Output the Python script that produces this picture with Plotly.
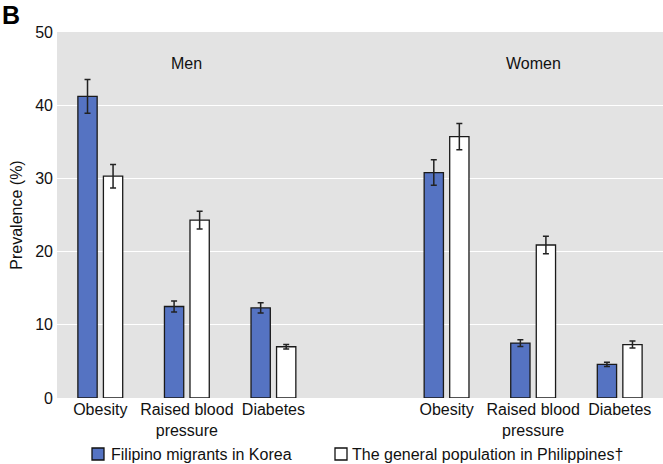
import plotly.graph_objects as go

groups = ["Men", "Women"]
conditions = ["Obesity", "Raised blood<br>pressure", "Diabetes"]
series_names = ["Filipino migrants in Korea", "The general population in Philippines†"]

# values per group (Men, Women) in condition order
migrants_men = [41.2, 12.5, 12.3]
migrants_women = [30.8, 7.5, 4.6]
migrants_err_men = [2.3, 0.75, 0.7]
migrants_err_women = [1.75, 0.45, 0.28]

general_men = [30.3, 24.3, 7.0]
general_women = [35.7, 20.9, 7.3]
general_err_men = [1.6, 1.2, 0.3]
general_err_women = [1.8, 1.2, 0.48]

y_ticks = [0, 10, 20, 30, 40, 50]

# category keys: Men conditions, a spacer slot, Women conditions
keys_men = [f"Men|{c}" for c in conditions]
keys_women = [f"Women|{c}" for c in conditions]
spacer = "gap"
cat_order = keys_men + [spacer] + keys_women
tick_text = conditions + [""] + conditions

FONT = "Arial, Liberation Sans, sans-serif"
BLUE = "#5573C2"
FILLS = [BLUE, "white"]

W, H = 663, 464
ML, MR, MT, MB = 57, 0, 32, 66
PW, PH = W - ML - MR, H - MT - MB


def px_x(p):
    return (p - ML) / PW


def px_y(p):
    return (H - MB - p) / PH


fig = go.Figure()
fig.add_trace(go.Bar(
    name=series_names[0],
    x=keys_men + keys_women,
    y=migrants_men + migrants_women,
    error_y=dict(type="data", array=migrants_err_men + migrants_err_women,
                 color="#222222", thickness=1.5, width=3),
    marker=dict(color=FILLS[0], line=dict(color="#1a1a1a", width=1.3)),
))
fig.add_trace(go.Bar(
    name=series_names[1],
    x=keys_men + keys_women,
    y=general_men + general_women,
    error_y=dict(type="data", array=general_err_men + general_err_women,
                 color="#222222", thickness=1.5, width=3),
    marker=dict(color=FILLS[1], line=dict(color="#1a1a1a", width=1.3)),
))

# group labels centered over middle condition of each group
fig.add_annotation(x=keys_men[1], y=45.7, text=groups[0], showarrow=False,
                   xref="x", yref="y", font=dict(size=16, color="#111111", family=FONT))
fig.add_annotation(x=keys_women[1], y=45.7, text=groups[1], showarrow=False,
                   xref="x", yref="y", font=dict(size=16, color="#111111", family=FONT))

fig.add_annotation(x=0, y=1, xref="paper", yref="paper", text="<b>B</b>",
                   showarrow=False, xanchor="left", yanchor="top",
                   font=dict(size=25, color="black", family=FONT),
                   xshift=-57, yshift=33)

# legend drawn at the bottom (square swatch + label)
legend_square_left = [92, 335]
legend_text_left = [109, 350]
for name, fill, sx, tx in zip(series_names, FILLS, legend_square_left, legend_text_left):
    fig.add_shape(type="rect", xref="paper", yref="paper",
                  x0=px_x(sx), x1=px_x(sx + 12), y0=px_y(448), y1=px_y(460),
                  fillcolor=fill, line=dict(color="#111111", width=1.3))
    fig.add_annotation(x=px_x(tx), y=px_y(454.5), xref="paper", yref="paper",
                       text=name, showarrow=False, xanchor="left", yanchor="middle",
                       font=dict(size=16, color="#111111", family=FONT))

fig.update_layout(
    width=W, height=H,
    margin=dict(l=ML, r=MR, t=MT, b=MB),
    paper_bgcolor="white",
    plot_bgcolor="#E3E3E3",
    barmode="group",
    bargap=0.41,
    bargroupgap=0.245,
    font=dict(family=FONT, size=16, color="#111111"),
    showlegend=False,
    xaxis=dict(type="category", categoryorder="array", categoryarray=cat_order,
               tickvals=cat_order, ticktext=tick_text, showgrid=False, automargin=False,
               showline=False, ticks="", tickfont=dict(size=16), zeroline=False),
    yaxis=dict(range=[0, 50], tickvals=y_ticks, showgrid=True, gridcolor="white",
               gridwidth=1.3, zeroline=False, showline=False, ticks="", automargin=False,
               tickfont=dict(size=16), ticklabelstandoff=3,
               title=dict(text="Prevalence (%)", font=dict(size=16), standoff=8)),
)

fig.write_html("out.html", config={"displayModeBar": False},
               post_script="document.body.style.margin='0';document.body.style.overflow='hidden';")
